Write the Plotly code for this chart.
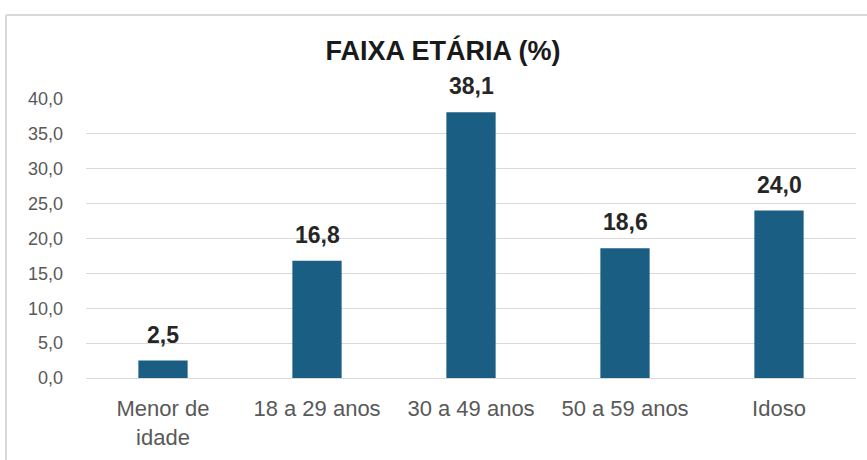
import plotly.graph_objects as go

categorias = ["Menor de<br>idade", "18 a 29 anos", "30 a 49 anos", "50 a 59 anos", "Idoso"]
percentuais = [2.5, 16.8, 38.1, 18.6, 24.0]
y_ticks = [0, 5, 10, 15, 20, 25, 30, 35, 40]

W, H = 867, 460
ML, MR, MT, MB = 86, 11, 99, 82
pw, ph = W - ML - MR, H - MT - MB

fig = go.Figure()
fig.add_trace(go.Bar(x=categorias, y=percentuais, marker_color="#1b5e84",
                     marker_line_width=0, hoverinfo="skip"))

# rótulos de dados acima das barras
for c, v in zip(categorias, percentuais):
    fig.add_annotation(x=c, y=v, text="<b>%s</b>" % f"{v:.1f}".replace(".", ","),
                       showarrow=False, yanchor="bottom", yshift=11,
                       font=dict(size=23, color="#262626", family="Liberation Sans, Arial"))

# moldura cinza (linha superior e esquerda)
px2x = lambda p: (p - ML) / pw
py2y = lambda p: (H - MB - p) / ph
fig.add_shape(type="line", xref="paper", yref="paper", x0=px2x(6), x1=px2x(867),
              y0=py2y(15), y1=py2y(15), line=dict(color="#d9d9d9", width=2))
fig.add_shape(type="line", xref="paper", yref="paper", x0=px2x(6), x1=px2x(6),
              y0=py2y(15), y1=py2y(460), line=dict(color="#d9d9d9", width=2))

fig.update_layout(
    width=W, height=H, autosize=False,
    margin=dict(l=ML, r=MR, t=MT, b=MB),
    paper_bgcolor="white", plot_bgcolor="white",
    separators=",.",
    bargap=0.68,
    showlegend=False,
    font=dict(family="Liberation Sans, Arial", color="#595959"),
    title=dict(text="<b>FAIXA ETÁRIA (%)</b>", x=443 / W, xanchor="center",
               y=1 - 51 / H, yanchor="middle", yref="container",
               font=dict(size=27, color="#1a1a1a")),
    xaxis=dict(showgrid=False, showline=False, ticks="", tickfont=dict(size=22),
               ticklabelstandoff=15),
    yaxis=dict(range=[0, 40], tickvals=y_ticks, tickformat=".1f",
               showgrid=True, gridcolor="#d9d9d9", gridwidth=1,
               zeroline=True, zerolinecolor="#d9d9d9", zerolinewidth=1,
               showline=False, ticks="", tickfont=dict(size=18),
               ticklabelstandoff=22),
)

fig.write_html("out.html", config={"displayModeBar": False},
               post_script="document.body.style.margin='0';")
